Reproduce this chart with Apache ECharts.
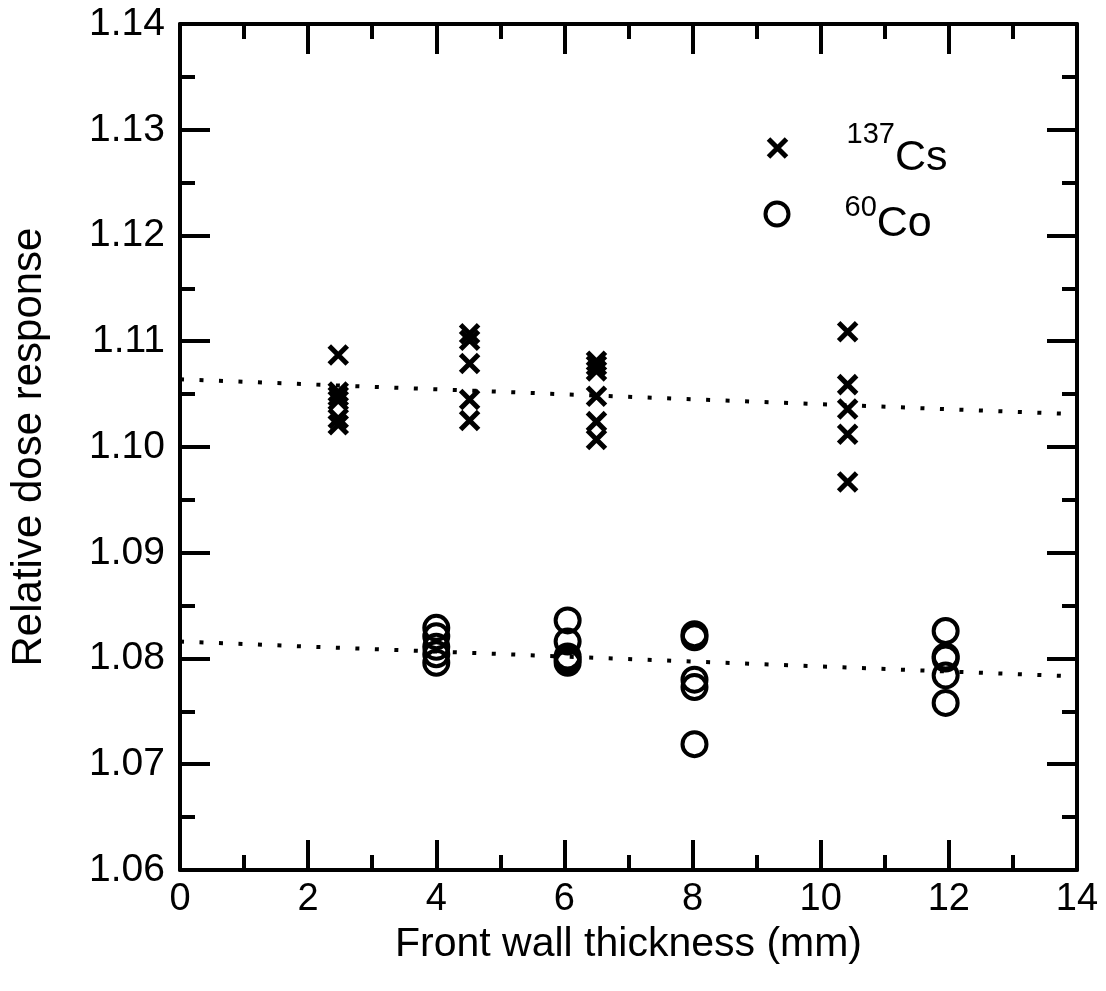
<!DOCTYPE html>
<html>
<head>
<meta charset="utf-8">
<title>Relative dose response vs front wall thickness</title>
<script src="https://cdn.jsdelivr.net/npm/echarts@6/dist/echarts.min.js"></script>
<style>
  html, body { margin: 0; padding: 0; background: #fff; }
  #chart { width: 1106px; height: 991px; }
</style>
</head>
<body>
<div id="chart"></div>
<script>
// Front wall thickness (mm) and relative dose response, per source
const csThickness = [2.47, 4.52, 6.5, 10.42];
const csResponse = [
  [1.1087, 1.1052, 1.1048, 1.1044, 1.1027, 1.1021],
  [1.1107, 1.1101, 1.1079, 1.1045, 1.1025],
  [1.1081, 1.1077, 1.1072, 1.1048, 1.1024, 1.1007],
  [1.1109, 1.1059, 1.1036, 1.1012, 1.0967]
];
const coThickness = [4.0, 6.05, 8.03, 11.95];
const coResponse = [
  [1.0829, 1.0821, 1.0811, 1.0804, 1.0796],
  [1.0836, 1.0816, 1.0802, 1.0799, 1.0796],
  [1.0823, 1.0820, 1.0780, 1.0773, 1.0719],
  [1.0826, 1.0802, 1.0800, 1.0784, 1.0758]
];

// Linear fits, evaluated at the ends of the thickness axis
const fitThickness = [0, 14];
const csFit = [1.1064, 1.1031];
const coFit = [1.0816, 1.0783];

// Axis ranges and ticks
const xTicks = [0, 2, 4, 6, 8, 10, 12, 14];
const yTicks = [1.06, 1.07, 1.08, 1.09, 1.10, 1.11, 1.12, 1.13, 1.14];

// Legend entries: mass number and element symbol
const isotopes = [
  { name: '137Cs', mass: '137', element: 'Cs' },
  { name: '60Co', mass: '60', element: 'Co' }
];

function toPoints(xs, groups) {
  const pts = [];
  groups.forEach((vals, i) => vals.forEach(v => pts.push([xs[i], v])));
  return pts;
}
function toLine(xs, ys) {
  return xs.map((x, i) => [x, ys[i]]);
}

const FONT = 'Liberation Sans, Arial, Helvetica, sans-serif';
const crossPath = 'path://M0,0L20,20M20,0L0,20';

function frameAxis(extra) {
  return Object.assign({
    axisLine: { show: true, onZero: false, lineStyle: { color: '#000', width: 4 } },
    axisTick: { show: true, inside: true, length: 30, lineStyle: { color: '#000', width: 4 } },
    minorTick: { show: true, splitNumber: 2, length: 15, lineStyle: { color: '#000', width: 4 } },
    splitLine: { show: false },
    minorSplitLine: { show: false }
  }, extra);
}

const xMin = xTicks[0], xMax = xTicks[xTicks.length - 1];
const yMin = yTicks[0], yMax = yTicks[yTicks.length - 1];

const chart = echarts.init(document.getElementById('chart'), null, { renderer: 'canvas' });

// Isotope label: superscript mass number followed by the element symbol;
// the tiny trailing token only fixes the height of the text line.
function isotopeLabel(iso) {
  return '{sup|' + iso.mass + '}{big|' + iso.element + '}{pad| }';
}

function isotopeRich(supDrop, supGap) {
  return {
    sup: { fontFamily: FONT, fontSize: 29, lineHeight: 30, verticalAlign: 'top', color: '#000', padding: [supDrop, 0, 0, supGap] },
    big: { fontFamily: FONT, fontSize: 43, lineHeight: 44, verticalAlign: 'bottom', color: '#000' },
    pad: { fontFamily: FONT, fontSize: 2, lineHeight: 64, color: '#000' }
  };
}

const option = {
  backgroundColor: '#fff',
  animation: false,
  grid: { left: 180, right: 29, top: 24, bottom: 121, containLabel: false },
  xAxis: [
    frameAxis({
      type: 'value', min: xMin, max: xMax, interval: 2, position: 'bottom',
      name: 'Front wall thickness (mm)', nameLocation: 'middle', nameGap: 53,
      nameTextStyle: { fontFamily: FONT, fontSize: 41, color: '#000' },
      axisLabel: { show: true, margin: 11, fontFamily: FONT, fontSize: 38, color: '#000' }
    }),
    frameAxis({
      type: 'value', min: xMin, max: xMax, interval: 2, position: 'top',
      axisLabel: { show: false }
    })
  ],
  yAxis: [
    frameAxis({
      type: 'value', min: yMin, max: yMax, interval: 0.01, position: 'left',
      name: 'Relative dose response', nameLocation: 'middle', nameGap: 130,
      nameTextStyle: { fontFamily: FONT, fontSize: 42, color: '#000' },
      axisLabel: {
        show: true, margin: 15, fontFamily: FONT, fontSize: 39, color: '#000',
        formatter: v => v.toFixed(2)
      }
    }),
    frameAxis({
      type: 'value', min: yMin, max: yMax, interval: 0.01, position: 'right',
      axisLabel: { show: false }
    })
  ],
  legend: [
    {
      data: [isotopes[0].name], orient: 'vertical', left: 766, top: 116, padding: 0,
      itemWidth: 18, itemHeight: 18,
      itemStyle: { borderWidth: 5, borderColor: '#000', color: 'transparent' },
      formatter: () => isotopeLabel(isotopes[0]),
      textStyle: { rich: isotopeRich(4, 55) }
    },
    {
      data: [isotopes[1].name], orient: 'vertical', left: 763.5, top: 182, padding: 0,
      itemWidth: 23, itemHeight: 23,
      itemStyle: { borderWidth: 4, borderColor: '#000', color: 'transparent' },
      formatter: () => isotopeLabel(isotopes[1]),
      textStyle: { rich: isotopeRich(11, 51) }
    }
  ],
  series: [
    {
      name: isotopes[0].name + ' fit', type: 'line', data: toLine(fitThickness, csFit),
      symbol: 'none', silent: true, z: 1,
      lineStyle: { color: '#000', width: 4, type: [4, 15.5], cap: 'butt' }
    },
    {
      name: isotopes[1].name + ' fit', type: 'line', data: toLine(fitThickness, coFit),
      symbol: 'none', silent: true, z: 1,
      lineStyle: { color: '#000', width: 4, type: [4, 15.5], cap: 'butt' }
    },
    {
      name: isotopes[0].name, type: 'scatter', data: toPoints(csThickness, csResponse),
      symbol: crossPath, symbolSize: 18, z: 3,
      itemStyle: { color: 'transparent', borderColor: '#000', borderWidth: 5, opacity: 1 }
    },
    {
      name: isotopes[1].name, type: 'scatter', data: toPoints(coThickness, coResponse),
      symbol: 'circle', symbolSize: 24, z: 3,
      itemStyle: { color: 'transparent', borderColor: '#000', borderWidth: 4, opacity: 1 }
    }
  ]
};

chart.setOption(option);
</script>
</body>
</html>
